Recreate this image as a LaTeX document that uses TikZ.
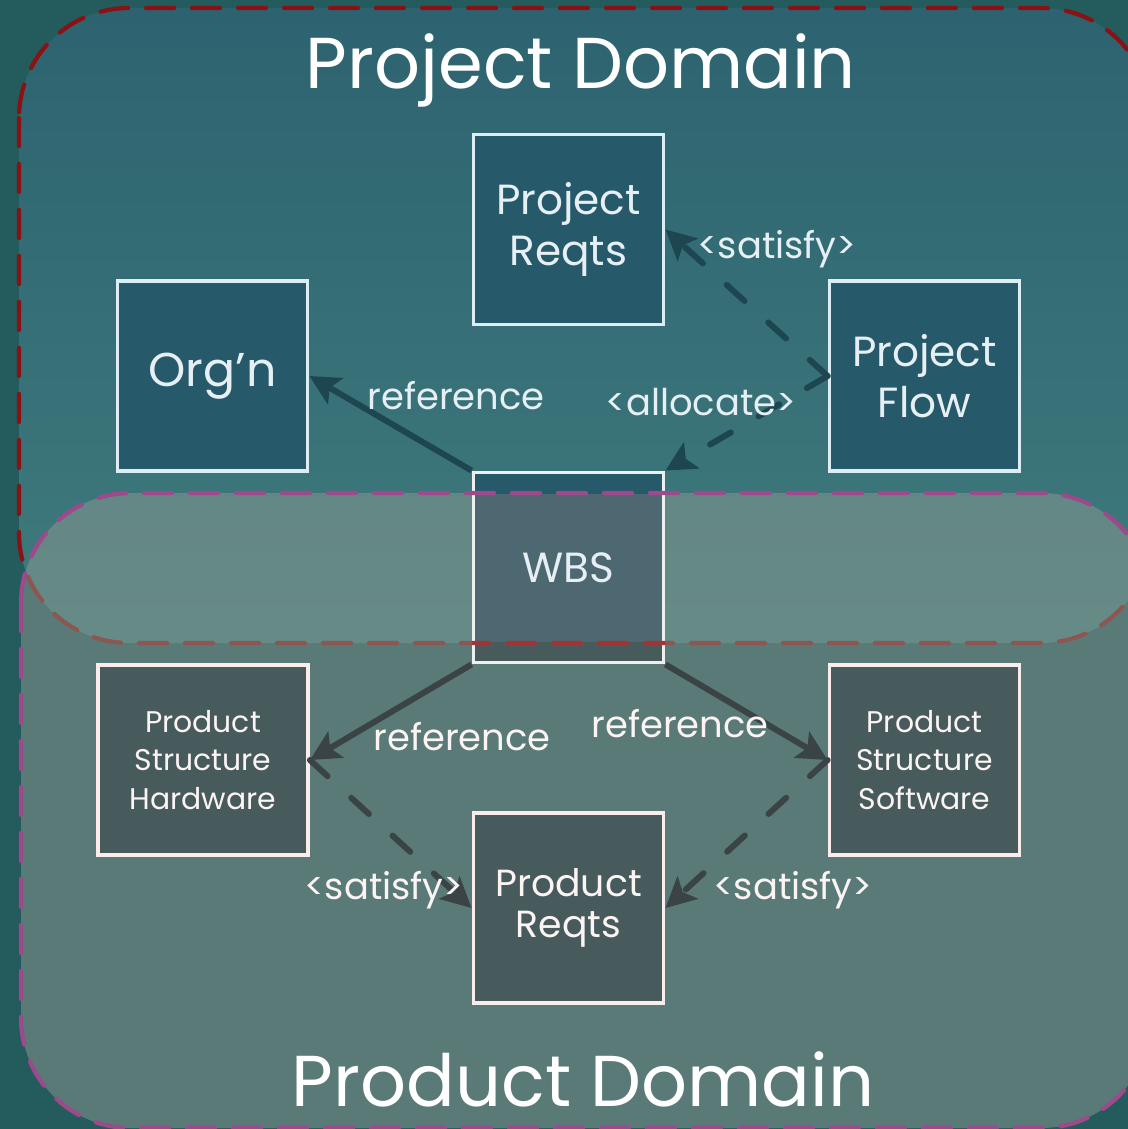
\documentclass[tikz,border=0pt]{standalone}
\usepackage{fontspec}
\setmainfont{Poppins}
\usetikzlibrary{arrows.meta}

\definecolor{bgteal}{HTML}{245B5C}
\definecolor{projtop}{HTML}{2D6370}
\definecolor{projbot}{HTML}{3F7B7D}
\definecolor{prodveil}{HTML}{8E9A90}
\definecolor{projred}{HTML}{8A1214}
\definecolor{projredlight}{HTML}{A23434}
\definecolor{prodpink}{HTML}{9C4A8C}
\definecolor{projbox}{HTML}{265969}
\definecolor{prodbox}{HTML}{475B5D}
\definecolor{wbsmid}{HTML}{4E6872}
\definecolor{projedge}{HTML}{DCEDF3}
\definecolor{prodedge}{HTML}{FAEDEC}
\definecolor{wbsedge}{HTML}{EEF0F0}
\definecolor{projink}{HTML}{1D4651}
\definecolor{prodink}{HTML}{3A4345}
\definecolor{projtext}{HTML}{E6F0F4}
\definecolor{prodtext}{HTML}{FCF4F3}

\begin{document}
\begin{tikzpicture}[x=0.02cm,y=-0.02cm]
\tikzset{box/.style={minimum width=3.8cm,minimum height=3.8cm,line width=2.2pt,align=center,inner sep=0pt}}
\tikzset{projectbox/.style={box,fill=projbox,draw=projedge,text=projtext,font=\fontsize{24}{29}\selectfont}}
\tikzset{productbox/.style={box,fill=prodbox,draw=prodedge,text=prodtext,font=\fontsize{17}{22}\selectfont}}
\tikzset{domainline/.style={line width=2.4pt,dash pattern=on 0.56cm off 0.36cm,line cap=round,rounded corners=2.2cm}}
\tikzset{refarrow/.style={line width=3.4pt,-{Stealth[length=0.6cm,width=0.6cm,inset=0.13cm]}}}
\tikzset{satarrow/.style={refarrow,line cap=round,dash pattern=on 0.48cm off 0.64cm}}
\tikzset{projlabel/.style={text=projtext,font=\fontsize{21}{25}\selectfont}}
\tikzset{prodlabel/.style={text=prodtext,font=\fontsize{21}{25}\selectfont}}
\tikzset{title/.style={text=white,font=\fontsize{41}{49}\selectfont,anchor=base}}

\useasboundingbox (0,0) rectangle (1128,1129);
\clip (0,0) rectangle (1128,1129);
\fill[bgteal] (0,0) rectangle (1128,1129);

\shade[top color=projtop,bottom color=projbot,rounded corners=2.2cm] (19,8) rectangle (1151,643);
\draw[domainline,projred] (19,8) rectangle (1151,643);
\fill[prodveil,opacity=0.5,rounded corners=2.2cm] (21,493) rectangle (1151,1128);

\node[projectbox] (preqts) at (568.5,229.5) {Project\\Reqts};
\node[projectbox,font=\fontsize{27}{32}\selectfont] (org) at (212.5,376) {Org'n};
\node[projectbox] (pflow) at (924.5,376) {Project\\Flow};
\node[projectbox,fill=wbsmid,draw=wbsedge,path picture={
  \fill[projbox] (path picture bounding box.north west) rectangle ([yshift=-0.42cm]path picture bounding box.north east);
  \fill[prodbox] (path picture bounding box.south west) rectangle ([yshift=0.4cm]path picture bounding box.south east);
}] (wbs) at (568.5,567.5) {WBS};

\node[productbox,minimum width=4.2cm] (psh) at (203,760) {Product\\Structure\\Hardware};
\node[productbox] (pss) at (924.5,760) {Product\\Structure\\Software};
\node[productbox,font=\fontsize{21.5}{23.5}\selectfont] (dreqts) at (568.5,908) {Product\\Reqts};

\begin{scope}
\clip (472,600) rectangle (665,700);
\draw[domainline,projredlight] (19,8) rectangle (1151,643);
\end{scope}
\draw[domainline,prodpink] (21,493) rectangle (1151,1128);

\draw[refarrow,projink] (wbs.north west) -- (org.east);
\draw[satarrow,projink] (pflow.west) -- (preqts.east);
\draw[satarrow,projink] (pflow.west) -- (wbs.north east);
\draw[refarrow,prodink] (wbs.south west) -- (psh.east);
\draw[refarrow,prodink] (wbs.south east) -- (pss.west);
\draw[satarrow,prodink] (psh.east) -- (dreqts.west);
\draw[satarrow,prodink] (pss.west) -- (dreqts.east);

\node[projlabel] (reforg) at (456,396) {reference};
\node[projlabel] (satpreqts) at (777,249) {<satisfy>};
\node[projlabel] (allocwbs) at (701,402) {<allocate>};
\node[prodlabel] (refpsh) at (462,737) {reference};
\node[prodlabel] (refpss) at (680,724) {reference};
\node[prodlabel] (satpsh) at (384,890) {<satisfy>};
\node[prodlabel] (satpss) at (793,890) {<satisfy>};

\node[title] (projdomain) at (581,88) {Project Domain};
\node[title] (proddomain) at (583,1106) {Product Domain};
\end{tikzpicture}
\end{document}
